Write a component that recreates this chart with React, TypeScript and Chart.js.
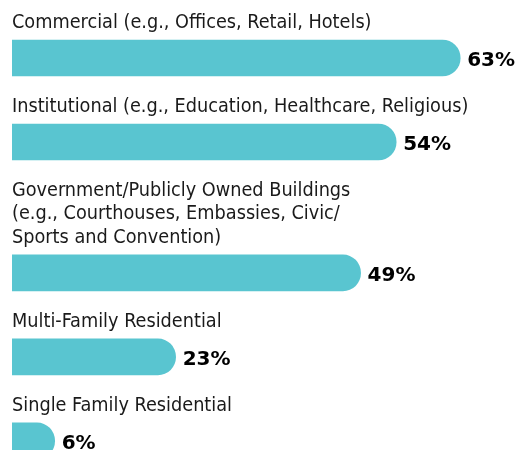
import React, { useEffect, useRef } from "react";
import { Chart, registerables } from "chart.js";

Chart.register(...registerables);

// Category labels (each entry = lines of the label as printed)
const categories: string[][] = [
  ["Commercial (e.g., Offices, Retail, Hotels)"],
  ["Institutional (e.g., Education, Healthcare, Religious)"],
  ["Government/Publicly Owned Buildings", "(e.g., Courthouses, Embassies, Civic/", "Sports and Convention)"],
  ["Multi-Family Residential"],
  ["Single Family Residential"],
];
const values: number[] = [63, 54, 49, 23, 6];
const valueLabels: string[] = ["63%", "54%", "49%", "23%", "6%"];

const LINE_PX = 23.4; // px per label line
const ROW_GAP = 2.59; // row extra height in line units
const BAR_OFFSET = 1.48; // bar centre below label block, line units

function rowPositions(): number[] {
  const out: number[] = [];
  let top = 0;
  for (const lines of categories) {
    out.push(top + lines.length + BAR_OFFSET);
    top += lines.length + ROW_GAP;
  }
  return out;
}

const LABEL_FONT = '19.7px "DejaVu Sans Condensed", "Liberation Sans Narrow", sans-serif';
const VALUE_FONT = 'bold 20px "DejaVu Sans", sans-serif';

const labelPlugin = {
  id: "rowLabels",
  afterDatasetsDraw(chart: any) {
    const ctx = chart.ctx;
    const meta = chart.getDatasetMeta(0);
    ctx.save();
    meta.data.forEach((bar: any, i: number) => {
      const props = bar.getProps(["x", "y", "base", "height"], true);
      const top = props.y - props.height / 2;
      const lines = categories[i];
      ctx.font = LABEL_FONT;
      ctx.fillStyle = "#1a1a1a";
      ctx.textAlign = "left";
      ctx.textBaseline = "alphabetic";
      for (let k = 0; k < lines.length; k++) {
        const baseline = top - 12 - (lines.length - 1 - k) * LINE_PX;
        ctx.fillText(lines[k], props.base, baseline);
      }
      ctx.font = VALUE_FONT;
      ctx.fillStyle = "#000000";
      ctx.fillText(valueLabels[i], props.x + 7, props.y + 8);
    });
    ctx.restore();
  },
};

export default function App() {
  const ref = useRef<HTMLCanvasElement | null>(null);
  useEffect(() => {
    if (!ref.current) return;
    const ys = rowPositions();
    const chart = new Chart(ref.current, {
      type: "bar",
      data: {
        datasets: [
          {
            data: values.map((v, i) => ({ x: v, y: ys[i] })),
            backgroundColor: "#59C5D0",
            borderWidth: 0,
            borderRadius: 18,
            borderSkipped: "start",
            barThickness: 36,
          } as any,
        ],
      },
      options: {
        indexAxis: "y",
        responsive: false,
        animation: false,
        layout: { padding: { left: 12, right: 10, top: 0, bottom: 0 } },
        plugins: { legend: { display: false }, tooltip: { enabled: false } },
        scales: {
          x: { type: "linear", min: 0, max: 70, display: false, offset: false },
          y: { type: "linear", min: 0, max: 450 / LINE_PX, reverse: true, display: false, offset: false },
        },
      },
      plugins: [labelPlugin],
    });
    return () => chart.destroy();
  }, []);
  return (
    <div style={{ position: "absolute", left: 0, top: 0, width: 520, height: 450, background: "#fff" }}>
      <canvas ref={ref} width={520} height={450} />
    </div>
  );
}
